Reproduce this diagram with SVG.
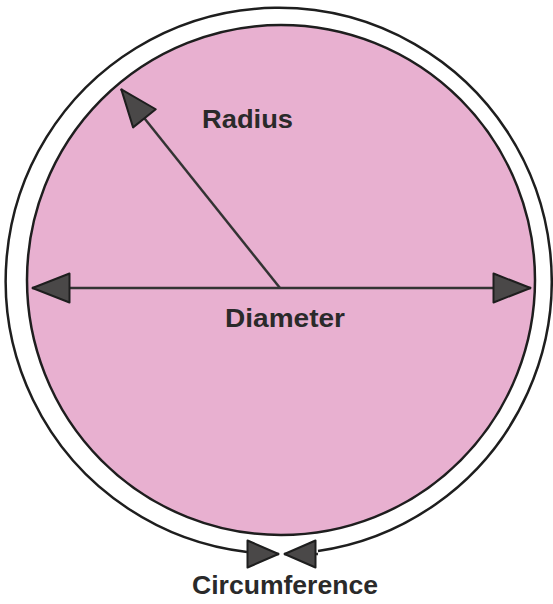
<svg xmlns="http://www.w3.org/2000/svg" width="553" height="604" viewBox="0 0 553 604">
<style>
.ring{fill:none;stroke:#1e1e1e;stroke-width:2.5}
.disc{fill:#e8b0d0;stroke:#1e1e1e;stroke-width:2.5}
.conn{stroke:#333;stroke-width:2.5;fill:none;stroke-linecap:butt}
.lbl{font-family:"Liberation Sans",Arial,sans-serif;font-weight:bold;font-size:25px;fill:#2a2a2a}
.head{fill:#4a4848;stroke:#1e1e1e;stroke-width:2;stroke-linejoin:round}
</style>
<defs>
<marker id="arr" viewBox="0 0 40 32" refX="39" refY="16" markerWidth="40" markerHeight="32" markerUnits="userSpaceOnUse" orient="auto-start-reverse">
<path class="head" d="M1.5,1.5 L38.5,16 L1.5,30.5 Z"/>
</marker>
<marker id="arrS" viewBox="0 0 34 30" refX="33" refY="15" markerWidth="34" markerHeight="30" markerUnits="userSpaceOnUse" orient="auto-start-reverse">
<path class="head" d="M1.5,1.5 L32.5,15 L1.5,28.5 Z"/>
</marker>
</defs>
<g id="circle">
<path class="ring" d="M247,552 A273,273 0 1 1 318,551"/>
<ellipse class="disc" cx="281" cy="280" rx="254" ry="255"/>
</g>
<g id="connectors">
<line class="conn" x1="32" y1="288" x2="531" y2="288" marker-start="url(#arr)" marker-end="url(#arr)"/>
<line class="conn" x1="280" y1="288" x2="121" y2="89" marker-end="url(#arr)"/>
<line class="conn" x1="247" y1="554" x2="279" y2="554" marker-end="url(#arrS)" stroke="none"/>
<line class="conn" x1="318" y1="554" x2="284" y2="554" marker-end="url(#arrS)" stroke="none"/>
</g>
<g id="radius-label"><text class="lbl" x="202" y="128" textLength="91" lengthAdjust="spacingAndGlyphs">Radius</text></g>
<g id="diameter-label"><text class="lbl" x="225" y="327" textLength="120" lengthAdjust="spacingAndGlyphs">Diameter</text></g>
<g id="circumference-label"><text class="lbl" x="192" y="594" textLength="186" lengthAdjust="spacingAndGlyphs">Circumference</text></g>
</svg>
